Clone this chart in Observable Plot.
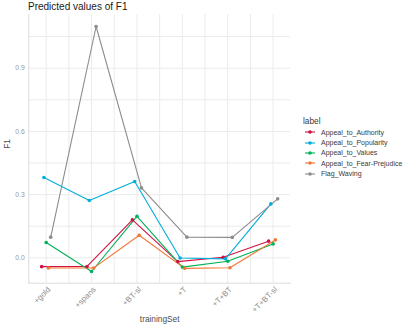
<!DOCTYPE html>
<html>
<head>
<meta charset="utf-8">
<script src="https://cdn.jsdelivr.net/npm/d3@7"></script>
<script src="https://cdn.jsdelivr.net/npm/@observablehq/plot@0.6"></script>
<style>
  html, body { margin: 0; padding: 0; background: #fff; }
  body { width: 409px; height: 327px; overflow: hidden; font-family: "Liberation Sans", Arial, sans-serif; }
  #title { height: 13px; line-height: 13px; padding-left: 28px; font-size: 10px; color: #1a1a1a; white-space: nowrap; }
  #row { display: flex; flex-direction: row; }
  #legend { padding-top: 103px; font-size: 7px; color: #3a3a3a; }
  #legend .ttl { font-size: 8.3px; height: 11px; line-height: 11px; padding-left: 5px; color: #3a3a3a; }
  #legend .item { display: flex; align-items: center; height: 10.4px; white-space: nowrap; }
  #legend svg { display: block; margin-left: 6px; margin-right: 5px; }
</style>
</head>
<body>
<div id="title">Predicted values of F1</div>
<div id="row"><div id="chart"></div><div id="legend"></div></div>
<script>
const categories = ["+gold", "+spans", "+BT-sl", "+T", "+T+BT", "+T+BT-sl"];
const labels = ["Appeal_to_Authority", "Appeal_to_Popularity", "Appeal_to_Values", "Appeal_to_Fear-Prejudice", "Flag_Waving"];
const colors = ["#d11141", "#00aedb", "#00b159", "#f37735", "#8c8c8c"];
const authority  = [-0.042, -0.041, 0.180, -0.018,  0.003, 0.079];
const popularity = [ 0.381,  0.272, 0.362, -0.001, -0.005, 0.256];
const valuesS    = [ 0.073, -0.065, 0.197, -0.044, -0.016, 0.066];
const fear       = [-0.048, -0.048, 0.107, -0.050, -0.047, 0.085];
const flag       = [ 0.098,  1.098, 0.332,  0.098,  0.097, 0.280];
const yTicks = [0, 0.3, 0.6, 0.9];

const series = [authority, popularity, valuesS, fear, flag];
const dodge = 0.05;
const data = labels.flatMap((lab, si) =>
  series[si].map((v, ci) => ({label: lab, pos: ci + (si - 2) * dodge, value: v})));

const yGrid = d3.range(0, 1.1, 0.15);
const xGrid = d3.range(0, 5.01, 0.5);

const chart = Plot.plot({
  width: 298, height: 314,
  marginLeft: 28.3, marginRight: 8, marginTop: 1, marginBottom: 44.3,
  x: {domain: [-0.383, 5.383]},
  y: {domain: [-0.1205, 1.155]},
  color: {domain: labels, range: colors},
  style: {fontFamily: "'Liberation Sans', Arial, sans-serif", background: "white", overflow: "visible"},
  marks: [
    Plot.gridY(yGrid, {stroke: "#ebebeb", strokeOpacity: 1, strokeWidth: 1}),
    Plot.gridX(xGrid, {stroke: "#ebebeb", strokeOpacity: 1, strokeWidth: 1}),
    Plot.frame({anchor: "left", stroke: "#dcdcdc"}),
    Plot.frame({anchor: "bottom", stroke: "#dcdcdc"}),
    Plot.axisY(yTicks, {tickSize: 0, tickPadding: 4, tickFormat: d3.format(".1f"), fill: "#9a9a9a", fontSize: 6.8, label: null}),
    Plot.axisX(d3.range(categories.length), {tickSize: 0, tickPadding: 4, tickRotate: -45, dx: 3, dy: 1, tickFormat: i => categories[i], fill: "#8c8c8c", fontSize: 8, label: null}),
    Plot.text(["F1"], {frameAnchor: "left", dx: -21, rotate: -90, text: d => d, fontSize: 8.3, fill: "#4d4d4d"}),
    Plot.text(["trainingSet"], {frameAnchor: "bottom", dy: 38.5, text: d => d, fontSize: 8.3, fill: "#4d4d4d"}),
    Plot.line(data, {x: "pos", y: "value", z: "label", stroke: "label", strokeWidth: 1.1}),
    Plot.dot(data, {x: "pos", y: "value", fill: "label", r: 1.8})
  ]
});
document.getElementById("chart").appendChild(chart);

const legend = document.getElementById("legend");
const t = document.createElement("div");
t.className = "ttl"; t.textContent = "label";
legend.appendChild(t);
labels.forEach((lab, i) => {
  const it = document.createElement("div");
  it.className = "item";
  it.innerHTML = `<svg width="12" height="8"><line x1="1" y1="4" x2="11" y2="4" stroke="${colors[i]}" stroke-width="1.1"/><circle cx="6" cy="4" r="1.8" fill="${colors[i]}"/></svg><span>${lab}</span>`;
  legend.appendChild(it);
});
</script>
</body>
</html>
